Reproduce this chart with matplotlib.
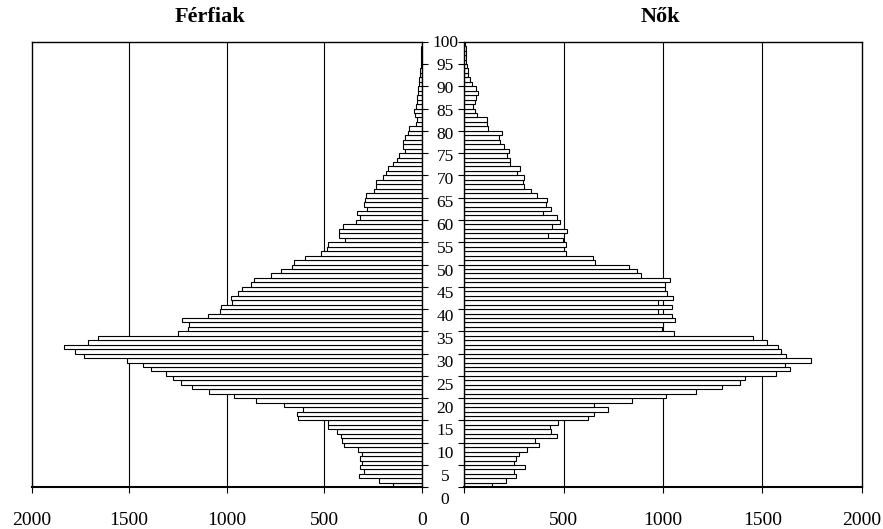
import numpy as np
import matplotlib
matplotlib.use("Agg")
import matplotlib.pyplot as plt

# age groups 0..99, one bar each
ages = np.arange(100)

men = [146, 220, 320, 297, 315, 306, 315, 306, 328, 397,
       409, 414, 433, 482, 482, 633, 638, 607, 705, 851,
       964, 1089, 1180, 1236, 1274, 1313, 1388, 1428, 1513, 1732,
       1778, 1834, 1709, 1658, 1248, 1200, 1193, 1228, 1097, 1033,
       1029, 972, 976, 944, 920, 875, 858, 771, 722, 663,
       654, 597, 514, 488, 480, 395, 423, 423, 406, 339,
       318, 333, 283, 296, 291, 284, 243, 236, 236, 197,
       185, 171, 146, 125, 116, 87, 94, 97, 86, 68,
       63, 29, 26, 33, 38, 31, 26, 24, 21, 21,
       14, 12, 10, 7, 6, 5, 3, 2, 2, 1]

women = [141, 212, 258, 248, 304, 252, 260, 277, 313, 377,
         358, 468, 435, 430, 473, 624, 651, 725, 651, 842,
         1013, 1166, 1298, 1386, 1412, 1567, 1641, 1614, 1744, 1617,
         1595, 1580, 1525, 1454, 1053, 993, 1001, 1060, 1043, 973,
         1043, 973, 1048, 1021, 1011, 1008, 1037, 889, 870, 830,
         659, 646, 512, 500, 512, 498, 420, 518, 443, 483,
         465, 394, 436, 410, 418, 364, 336, 302, 297, 302,
         267, 282, 230, 230, 213, 223, 201, 181, 175, 191,
         121, 113, 113, 64, 54, 45, 54, 57, 67, 59,
         37, 29, 17, 17, 13, 11, 10, 8, 7, 5]

x_ticks = [0, 500, 1000, 1500, 2000]
age_ticks = list(range(0, 101, 5))

W, H = 883, 529


def box(x0, x1, y0, y1):
    """pixel box -> figure fraction"""
    return [x0 / W, 1 - y1 / H, (x1 - x0) / W, (y1 - y0) / H]


def style_panel(ax):
    ax.set_ylim(0, 100)
    ax.set_xticks(x_ticks)
    ax.set_xticklabels([str(t) for t in x_ticks])
    ax.set_yticks(age_ticks)
    ax.set_yticklabels([])
    for t in x_ticks[1:-1]:
        ax.axvline(t, color='black', linewidth=0.8, zorder=0)
    for s in ax.spines.values():
        s.set_color('black')
        s.set_linewidth(1.0)
    ax.spines['bottom'].set_linewidth(1.5)
    ax.tick_params(axis='x', direction='out', length=4, width=0.8,
                   labelsize=14, pad=14)
    ax.tick_params(axis='y', direction='out', length=4, width=0.8)


plt.rcParams['font.family'] = ['Liberation Serif', 'DejaVu Serif']

fig = plt.figure(figsize=(W / 100, H / 100), dpi=100)
ax_l = fig.add_axes(box(31.7, 421.7, 41.7, 487.3))
ax_r = fig.add_axes(box(464.3, 861.8, 41.7, 487.3))
ax_m = fig.add_axes(box(421.7, 464.3, 41.7, 487.3))

ax_l.barh(ages + 0.5, men, height=1.0, color='white',
          edgecolor='black', linewidth=0.8, zorder=2)
ax_l.set_xlim(2000, 0)
style_panel(ax_l)
ax_l.yaxis.tick_right()

ax_r.barh(ages + 0.5, women, height=1.0, color='white',
          edgecolor='black', linewidth=0.8, zorder=2)
ax_r.set_xlim(0, 2000)
style_panel(ax_r)
ax_r.yaxis.tick_left()

# middle column with age labels (slightly different spacing than the ticks)
ax_m.set_ylim(2.78, 100.35)
ax_m.set_xlim(0, 1)
ax_m.axis('off')
for a in age_ticks:
    ax_m.text(0.55, a, str(a), ha='center', va='center',
              fontsize=12.5, clip_on=False)

fig.text(210 / W, 1 - 17 / H, 'Férfiak', ha='center', va='center',
         fontsize=16, fontweight='bold')
fig.text(660 / W, 1 - 17 / H, 'Nők', ha='center', va='center',
         fontsize=16, fontweight='bold')

fig.savefig('out.png', dpi=100)
